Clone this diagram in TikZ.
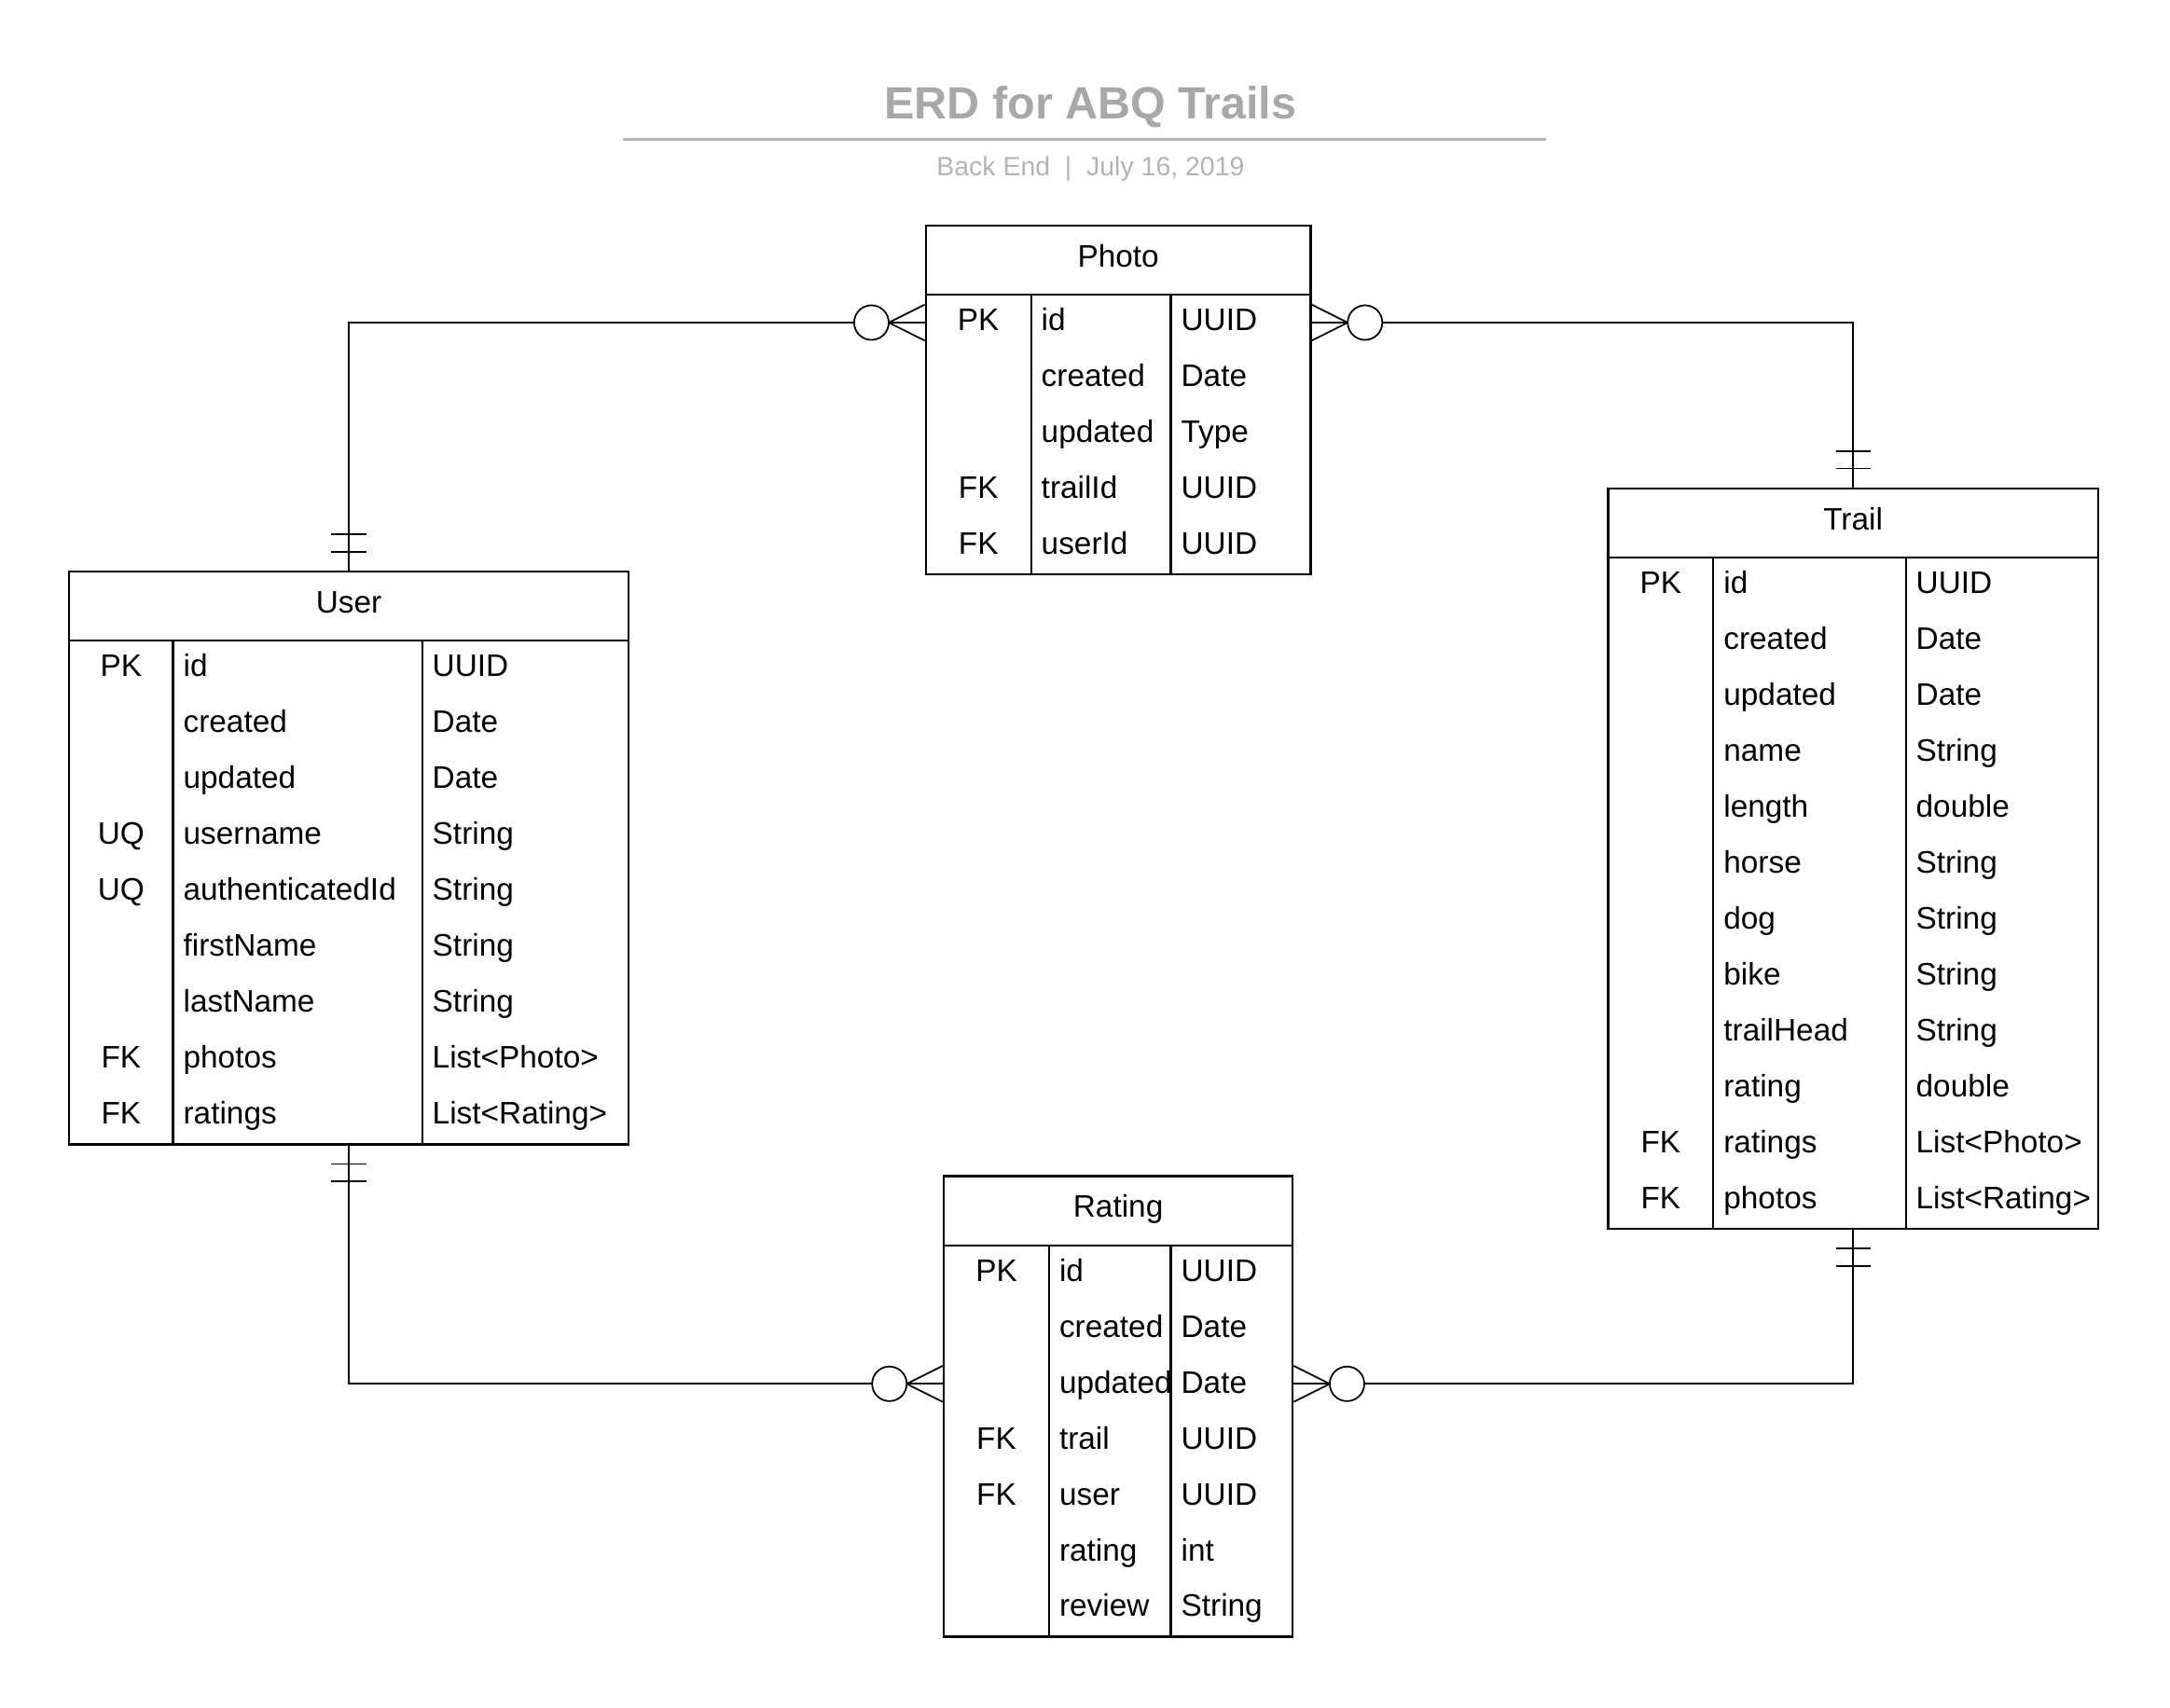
\documentclass[tikz,border=0pt]{standalone}
\usepackage{fontspec}
\setmainfont{Liberation Sans}
\usetikzlibrary{calc,fit}
\definecolor{titlegray}{RGB}{168,168,168}
\definecolor{subgray}{RGB}{180,180,180}
\tikzset {
  every node/.style={font=\fontsize{9.5}{11}\selectfont},
  tablebox/.style={draw,line width=0.7pt,inner sep=0pt},
  grid/.style={line width=0.6pt},
  cell/.style={inner sep=0pt},
  rel/.style={line width=0.5pt},
}
% zero-or-many end: #1 = point on the table edge, #2 = 1 when the table is to the right
\newcommand{\zeromany}[2]{%
  \draw[rel] ($(#1)+(-26*#2,0)$) -- ($(#1)+(0,-13)$)
             ($(#1)+(-26*#2,0)$) -- ($(#1)+(0,13)$);
  \draw[rel,fill=white] ($(#1)+(-38.5*#2,0)$) circle[radius=12.5];
}
% exactly-one end: #1 = point on the table edge, #2 = 1 when the line leaves upwards
\newcommand{\onlyone}[2]{%
  \draw[rel] ($(#1)+(-12.5,-13.5*#2)$) -- +(25,0)
             ($(#1)+(-12.5,-26*#2)$) -- +(25,0);
}

\begin{document}
\begin{tikzpicture}[x=0.01484cm,y=-0.01484cm]
  \useasboundingbox (0,0) rectangle (1568,1234);

  % heading
  \node[font=\fontsize{13.8}{16}\selectfont\bfseries,text=titlegray,anchor=base] (title) at (788,86) {ERD for ABQ Trails};
  \draw[subgray,line width=0.8pt] (450,101) -- (1117,101);
  \node[font=\fontsize{8.1}{10}\selectfont,text=subgray,anchor=base] (subtitle) at (788,127) {Back End \ | \ July 16, 2019};

  % Photo
  \node[tablebox,fit={(669,163) (947,415)}] (photo) {};
  \draw[grid] (669,213) -- (947,213) (745,213) -- (745,415) (846,213) -- (846,415);
  \node[anchor=base] (photo-name) at (808,193) {Photo};
  \foreach \k/\f/\t [count=\i] in {PK/id/UUID, /created/Date, /updated/Type, FK/trailId/UUID, FK/userId/UUID} {
    \node[cell,anchor=base] (photo-k\i) at (707,{213+40.4*\i-14.4}) {\k};
    \node[cell,anchor=base west] (photo-f\i) at (752,{213+40.4*\i-14.4}) {\f};
    \node[cell,anchor=base west] (photo-t\i) at (853,{213+40.4*\i-14.4}) {\t};
  }

  % User
  \node[tablebox,fit={(50,413) (454,827)}] (user) {};
  \draw[grid] (50,463) -- (454,463) (125,463) -- (125,827) (305,463) -- (305,827);
  \node[anchor=base] (user-name) at (252,443) {User};
  \foreach \k/\f/\t [count=\i] in {PK/id/UUID, /created/Date, /updated/Date, UQ/username/String,
      UQ/authenticatedId/String, /firstName/String, /lastName/String, FK/photos/List<Photo>, FK/ratings/List<Rating>} {
    \node[cell,anchor=base] (user-k\i) at (87.5,{463+40.4*\i-14.4}) {\k};
    \node[cell,anchor=base west] (user-f\i) at (132,{463+40.4*\i-14.4}) {\f};
    \node[cell,anchor=base west] (user-t\i) at (312,{463+40.4*\i-14.4}) {\t};
  }

  % Trail
  \node[tablebox,fit={(1162,353) (1516,888)}] (trail) {};
  \draw[grid] (1162,403) -- (1516,403) (1238,403) -- (1238,888) (1377,403) -- (1377,888);
  \node[anchor=base] (trail-name) at (1339,383) {Trail};
  \foreach \k/\f/\t [count=\i] in {PK/id/UUID, /created/Date, /updated/Date, /name/String, /length/double,
      /horse/String, /dog/String, /bike/String, /trailHead/String, /rating/double, FK/ratings/List<Photo>, FK/photos/List<Rating>} {
    \node[cell,anchor=base] (trail-k\i) at (1200,{403+40.4*\i-14.4}) {\k};
    \node[cell,anchor=base west] (trail-f\i) at (1245,{403+40.4*\i-14.4}) {\f};
    \node[cell,anchor=base west] (trail-t\i) at (1384,{403+40.4*\i-14.4}) {\t};
  }

  % Rating
  \node[tablebox,fit={(682,850) (934,1183)}] (rating) {};
  \draw[grid] (682,900) -- (934,900) (758,900) -- (758,1183) (846,900) -- (846,1183);
  \node[anchor=base] (rating-name) at (808,880) {Rating};
  \foreach \k/\f/\t [count=\i] in {PK/id/UUID, /created/Date, /updated/Date, FK/trail/UUID, FK/user/UUID,
      /rating/int, /review/String} {
    \node[cell,anchor=base] (rating-k\i) at (720,{900+40.4*\i-14.4}) {\k};
    \node[cell,anchor=base west] (rating-f\i) at (765,{900+40.4*\i-14.4}) {\f};
    \node[cell,anchor=base west] (rating-t\i) at (853,{900+40.4*\i-14.4}) {\t};
  }

  % relations
  \coordinate (photo-l) at ($(photo.north west)+(0,71)$);
  \coordinate (photo-r) at ($(photo.north east)+(0,71)$);
  \coordinate (rating-l) at ($(rating.north west)+(0,151)$);
  \coordinate (rating-r) at ($(rating.north east)+(0,151)$);

  \draw[rel] (user.north) |- (photo-l);
  \draw[rel] (photo-r) -| (trail.north);
  \draw[rel] (user.south) |- (rating-l);
  \draw[rel] (rating-r) -| (trail.south);

  \zeromany{photo-l}{1}
  \zeromany{photo-r}{-1}
  \zeromany{rating-l}{1}
  \zeromany{rating-r}{-1}
  \onlyone{user.north}{1}
  \onlyone{trail.north}{1}
  \onlyone{user.south}{-1}
  \onlyone{trail.south}{-1}
\end{tikzpicture}
\end{document}
